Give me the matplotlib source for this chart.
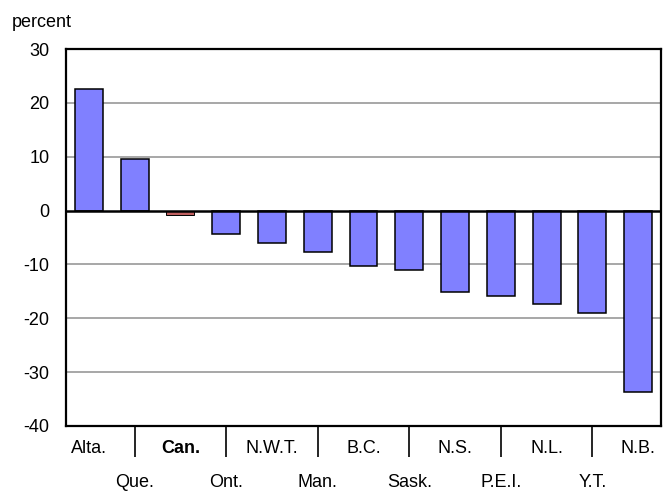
import matplotlib.pyplot as plt
import numpy as np

plt.rcParams['font.family'] = ['Liberation Sans', 'DejaVu Sans']

# provinces / territories, sorted by change
regions = ["Alta.", "Que.", "Can.", "Ont.", "N.W.T.", "Man.", "B.C.", "Sask.",
           "N.S.", "P.E.I.", "N.L.", "Y.T.", "N.B."]
change = [22.5, 9.5, -0.9, -4.3, -6.1, -7.6, -10.2, -11.0, -15.1, -15.9, -17.4, -19.1, -33.7]
barColors = ["#8080FF" if r != "Can." else "#C06060" for r in regions]

yTicks = [30, 20, 10, 0, -10, -20, -30, -40]
gridLevels = [20, 10, -10, -20, -30]

fig = plt.figure(figsize=(6.63, 4.91), dpi=100)
ax = fig.add_axes([0.0995, 0.1324, 0.8975, 0.7676])

x = np.arange(len(regions))
bars = ax.bar(x, change, width=0.61, color=barColors, edgecolor="black", linewidth=1.1, zorder=3)
bars[regions.index("Can.")].set_linewidth(0.7)

for g in gridLevels:
    ax.axhline(g, color="#A0A0A0", linewidth=1.3, zorder=1)
ax.axhline(0, color="black", linewidth=1.8, zorder=4)

ax.set_xlim(-0.5, len(regions) - 0.5)
ax.set_ylim(-40, 30)
ax.set_yticks(yTicks)
ax.set_yticklabels([str(t) for t in yTicks])
ax.tick_params(axis="y", length=0, pad=12, labelsize=13)

# staggered category labels: upper row on major ticks, lower row on minor ticks
ax.set_xticks(x[0::2])
ax.set_xticklabels(regions[0::2])
ax.set_xticks(x[1::2], minor=True)
ax.set_xticklabels(regions[1::2], minor=True)
ax.tick_params(axis="x", which="major", length=0, pad=10, labelsize=13)
ax.tick_params(axis="x", which="minor", length=22.3, width=1.2, direction="out",
               pad=12.5, labelsize=13, color="black")
for lbl in ax.get_xticklabels():
    if lbl.get_text() == "Can.":
        lbl.set_fontweight("bold")

for side in ax.spines.values():
    side.set_linewidth(1.6)
    side.set_color("black")

fig.text(0.018, 0.955, "percent", fontsize=13, ha="left", va="center")

fig.savefig("out.png", dpi=100)
